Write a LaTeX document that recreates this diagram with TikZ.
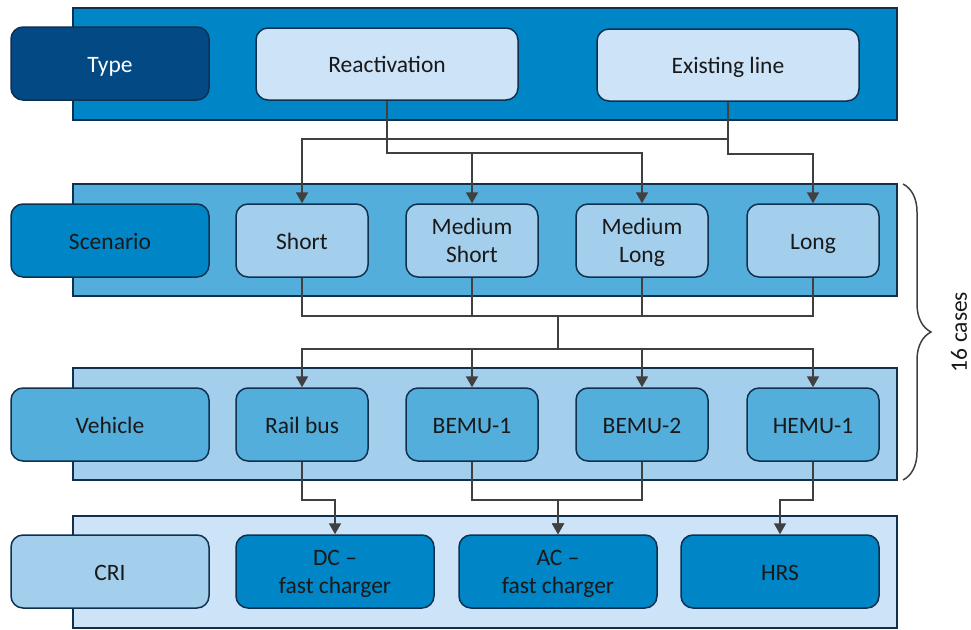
\documentclass[tikz,border=0pt]{standalone}
\usepackage{fontspec}
\setmainfont{Carlito}
\usetikzlibrary{arrows.meta,decorations.pathreplacing}

\definecolor{navy}{HTML}{034A85}
\definecolor{midblue}{HTML}{0085C7}
\definecolor{skyblue}{HTML}{53AEDC}
\definecolor{paleblue}{HTML}{A3CEEC}
\definecolor{iceblue}{HTML}{CCE3F8}
\definecolor{edge}{HTML}{10304F}
\definecolor{wire}{HTML}{404040}

\tikzset{
  band/.style={draw=edge, line width=1.5pt, rectangle, minimum width=824pt, minimum height=112pt, inner sep=0pt},
  box/.style={draw=edge, line width=1.5pt, rectangle, rounded corners=12pt, minimum height=73pt,
    align=center, font=\fontsize{23.5}{28}\selectfont, text=black!90, inner sep=0pt, text depth=0pt},
  oneline/.style={text height=17pt},
  label/.style={box, minimum width=198pt},
  item/.style={box, minimum width=132pt},
  wide/.style={box, minimum width=198pt},
  link/.style={draw=wire, line width=1.8pt},
  arrow/.style={link, -{Triangle[length=11pt,width=12pt]}},
}

\begin{document}
\begin{tikzpicture}[x=1pt,y=-1pt]
  \useasboundingbox (0,0) rectangle (971,629);

  % horizontal bands
  \node[band, fill=midblue]  (b1) at (485,64) {};
  \node[band, fill=skyblue]  (b2) at (485,240) {};
  \node[band, fill=paleblue] (b3) at (485,424) {};
  \node[band, fill=iceblue]  (b4) at (485,572) {};

  % type row
  \node[label, oneline, fill=navy, text=white] (type) at (110,63.5) {Type};
  \node[box, oneline, fill=iceblue, minimum width=262pt, minimum height=72pt] (react) at (387,64) {Reactivation};
  \node[box, oneline, fill=iceblue, minimum width=262pt, minimum height=72pt] (exist) at (728,65) {Existing line};

  % scenario row
  \node[label, oneline, fill=midblue] (scen) at (110,240.5) {Scenario};
  \node[item, oneline, fill=paleblue] (short) at (302,240.5) {Short};
  \node[item, fill=paleblue] (msh) at (472,240.5) {Medium\\Short};
  \node[item, fill=paleblue] (mlo) at (642,240.5) {Medium\\Long};
  \node[item, oneline, fill=paleblue] (long) at (813,240.5) {Long};

  % vehicle row
  \node[label, oneline, fill=skyblue] (veh) at (110,424.5) {Vehicle};
  \node[item, oneline, fill=skyblue] (rail) at (302,424.5) {Rail bus};
  \node[item, oneline, fill=skyblue] (bemuA) at (472,424.5) {BEMU-1};
  \node[item, oneline, fill=skyblue] (bemuB) at (642,424.5) {BEMU-2};
  \node[item, oneline, fill=skyblue] (hemu) at (813,424.5) {HEMU-1};

  % infrastructure row
  \node[label, oneline, fill=paleblue] (cri) at (110,571.5) {CRI};
  \node[wide, fill=midblue] (dc) at (335,571.5) {DC --\\fast charger};
  \node[wide, fill=midblue] (ac) at (558,571.5) {AC --\\fast charger};
  \node[wide, oneline, fill=midblue] (hrs) at (780,571.5) {HRS};

  % type -> scenario
  \draw[arrow] (react.south) -- ++(0,52) -| (msh.north);
  \draw[arrow] (react.south) -- ++(0,52) -| (mlo.north);
  \draw[arrow] (exist.south) -- ++(0,37) -| (short.north);
  \draw[arrow] (exist.south) -- ++(0,52) -| (long.north);

  % scenario -> vehicle
  \coordinate (join) at (558,316);
  \coordinate (split) at (558,349);
  \draw[link] (short.south) |- (join);
  \draw[link] (msh.south) |- (join);
  \draw[link] (mlo.south) |- (join);
  \draw[link] (long.south) |- (join);
  \draw[link] (join) -- (split);
  \draw[arrow] (split) -| (rail.north);
  \draw[arrow] (split) -| (bemuA.north);
  \draw[arrow] (split) -| (bemuB.north);
  \draw[arrow] (split) -| (hemu.north);

  % vehicle -> infrastructure
  \draw[arrow] (rail.south) -- ++(0,38) -| (dc.north);
  \draw[arrow] (bemuA.south) -- ++(0,38) -| (ac.north);
  \draw[arrow] (bemuB.south) -- ++(0,38) -| (ac.north);
  \draw[arrow] (hemu.south) -- ++(0,38) -| (hrs.north);

  % case count
  \coordinate (braceTop) at (903,184);
  \coordinate (braceBot) at (903,480);
  \draw[draw=wire, line width=1.5pt, decorate, decoration={brace, amplitude=28pt}] (braceTop) -- (braceBot);
  \node[rotate=90, font=\fontsize{23.5}{28}\selectfont, text=black!90] (cases) at (959,332) {16 cases};
\end{tikzpicture}
\end{document}
